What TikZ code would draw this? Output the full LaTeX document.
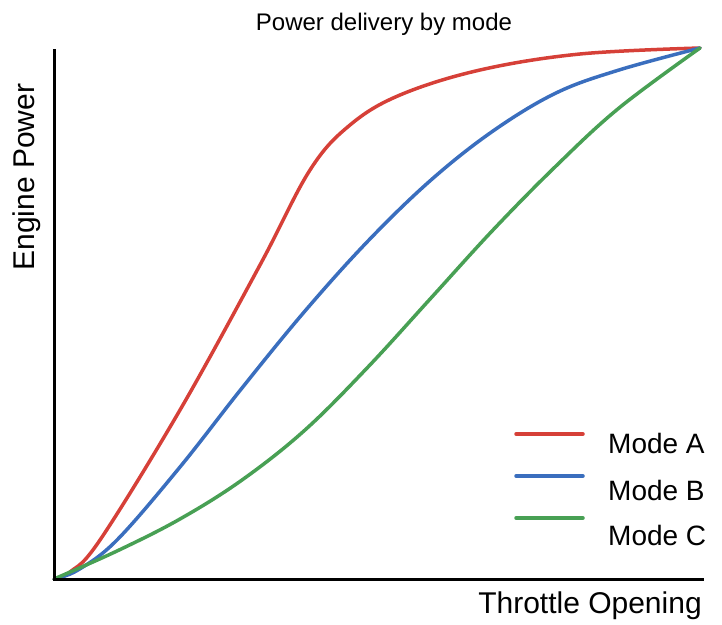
\documentclass[tikz,border=0pt]{standalone}
\usepackage{fontspec}
\setmainfont{Liberation Sans}
\definecolor{modeA}{RGB}{214,64,56}
\definecolor{modeB}{RGB}{58,110,190}
\definecolor{modeC}{RGB}{72,160,84}
\tikzset{
  axis/.style={line width=3pt, line cap=rect},
  curve/.style={line width=3.5pt, line cap=round, line join=round},
  lbl/.style={inner sep=0pt, font=\fontsize{30}{32}\selectfont},
  legtext/.style={lbl, anchor=west, font=\fontsize{28}{32}\selectfont}
}
\begin{document}
\begin{tikzpicture}[x=1pt, y=-1pt]
    \useasboundingbox (0,0) rectangle (722,624);
    \coordinate (O) at (54,579);
    \coordinate (Ytop) at (54,50);
    \coordinate (Xend) at (702,579);
    \node[inner sep=0pt, font=\fontsize{24}{28}\selectfont] (title) at (384,24) {Power delivery by mode};
    \node[lbl, rotate=90] (ylab) at (27,177) {Engine Power};
    \node[lbl] (xlab) at (590,606) {Throttle Opening};
    \draw[curve, modeA] plot[smooth, tension=0.6] coordinates {(54,579) (70,572) (100,540) (180,410) (260,265)
      (310,170) (350,125) (400,95) (480,70) (580,54) (700,48)};
    \draw[curve, modeB] plot[smooth, tension=0.6] coordinates {(54,579) (78,570) (117,540) (180,467) (242,388) (305,311)
      (368,241) (431,180) (493,131) (556,93) (619,70) (700,48)};
    \draw[curve, modeC] plot[smooth, tension=0.6] coordinates {(54,579) (117,551) (180,519) (242,480) (305,430)
      (368,367) (431,298) (493,230) (556,166) (619,108) (700,48)};
    \draw[axis] (Ytop) -- (O) -- (Xend);
    \node[legtext] (legA) at (608,443) {Mode A};
    \node[legtext] (legB) at (608,490) {Mode B};
    \node[legtext] (legC) at (608,535) {Mode C};
    \coordinate (la) at (516,434);
    \coordinate (lb) at (516,476);
    \coordinate (lc) at (516,518);
    \draw[curve, modeA] (la) -- ++(67,0);
    \draw[curve, modeB] (lb) -- ++(67,0);
    \draw[curve, modeC] (lc) -- ++(67,0);
  \end{tikzpicture}
\end{document}
